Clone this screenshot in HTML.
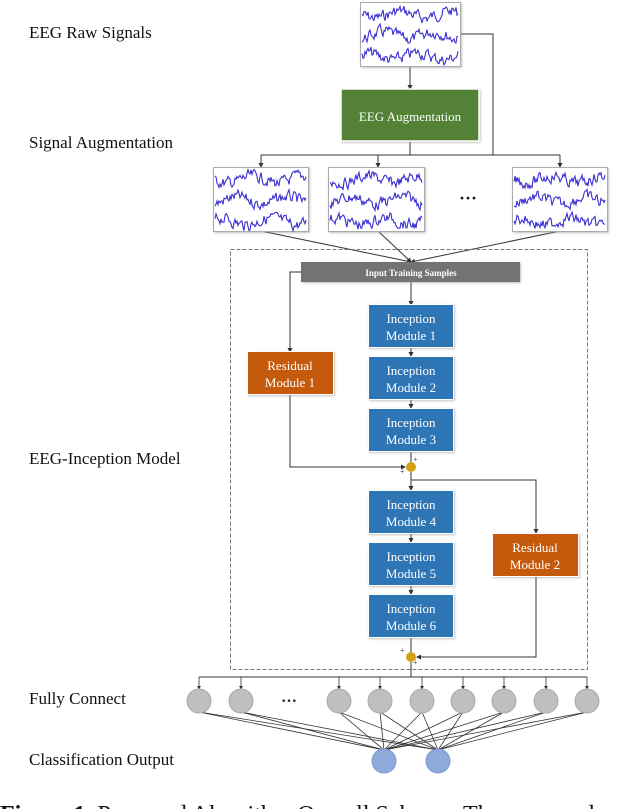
<!DOCTYPE html>
<html><head><meta charset="utf-8"><style>
html,body{margin:0;padding:0;background:#fff;width:640px;height:809px;overflow:hidden}
svg{display:block}
text{font-family:"Liberation Serif",serif}
</style></head><body>
<svg id="s" width="640" height="809" viewBox="0 0 640 809" xmlns="http://www.w3.org/2000/svg">
<defs>
<marker id="a" markerWidth="5" markerHeight="5" refX="4" refY="2.5" orient="auto"><path d="M0,0L5,2.5L0,5z" fill="#333"/></marker>
<filter id="sh" x="-10%" y="-10%" width="130%" height="130%"><feDropShadow dx="1" dy="1" stdDeviation="1" flood-color="#999" flood-opacity="0.6"/></filter>
</defs>
<g font-size="17" fill="#111">
<text x="29" y="38">EEG Raw Signals</text>
<text x="29" y="148">Signal Augmentation</text>
<text x="29" y="464">EEG-Inception Model</text>
<text x="29" y="704">Fully Connect</text>
<text x="29" y="765">Classification Output</text>
</g>
<g stroke="#333" stroke-width="1" fill="none">
<line x1="410" y1="66" x2="410" y2="89" marker-end="url(#a)"/>
<polyline points="460,34 493,34 493,155"/>
<line x1="410" y1="141" x2="410" y2="155"/>
<line x1="261" y1="155" x2="560" y2="155"/>
<line x1="261" y1="155" x2="261" y2="167" marker-end="url(#a)"/>
<line x1="378" y1="155" x2="378" y2="167" marker-end="url(#a)"/>
<line x1="560" y1="155" x2="560" y2="167" marker-end="url(#a)"/>
<line x1="261" y1="231" x2="411" y2="262" marker-end="url(#a)"/>
<line x1="378" y1="231" x2="411" y2="262" marker-end="url(#a)"/>
<line x1="560" y1="231" x2="411" y2="262" marker-end="url(#a)"/>
<rect x="230.5" y="249.5" width="357" height="420" stroke="#777" stroke-dasharray="4,2"/>
<polyline points="301,272 290,272 290,352" marker-end="url(#a)"/>
<line x1="411" y1="282" x2="411" y2="305" marker-end="url(#a)"/>
<line x1="411" y1="347" x2="411" y2="356" marker-end="url(#a)"/>
<line x1="411" y1="399" x2="411" y2="408" marker-end="url(#a)"/>
<line x1="411" y1="451" x2="411" y2="462"/>
<polyline points="290,395 290,467 405,467" marker-end="url(#a)"/>
<line x1="411" y1="472" x2="411" y2="490" marker-end="url(#a)"/>
<polyline points="411,480 536,480 536,533" marker-end="url(#a)"/>
<line x1="411" y1="533" x2="411" y2="542" marker-end="url(#a)"/>
<line x1="411" y1="586" x2="411" y2="594" marker-end="url(#a)"/>
<line x1="411" y1="637" x2="411" y2="652"/>
<polyline points="536,577 536,657 417,657" marker-end="url(#a)"/>
<line x1="411" y1="662" x2="411" y2="677"/>
<line x1="199" y1="677" x2="587" y2="677"/>
</g>
<g id="fc" stroke="#333" stroke-width="0.8"></g>
<g id="sig"></g>
<rect x="341" y="89" width="138" height="52" fill="#538135" stroke="#fff" stroke-width="1.5" filter="url(#sh)"/>
<text x="410" y="121" text-anchor="middle" font-size="13" fill="#fff">EEG Augmentation</text>
<text x="468" y="204" text-anchor="middle" font-size="18" font-weight="bold" fill="#222">···</text>
<rect x="301" y="262" width="219" height="20" fill="#737373" filter="url(#sh)"/>
<text x="411" y="276" text-anchor="middle" font-size="9" font-weight="bold" fill="#fff">Input Training Samples</text>
<g font-size="13" fill="#fff" text-anchor="middle">
<g filter="url(#sh)" fill="#2e74b5" stroke="#fff" stroke-width="1">
<rect x="368.5" y="304.5" width="85" height="43"/>
<rect x="368.5" y="356.5" width="85" height="43"/>
<rect x="368.5" y="408.5" width="85" height="43"/>
<rect x="368.5" y="490.5" width="85" height="43"/>
<rect x="368.5" y="542.5" width="85" height="43"/>
<rect x="368.5" y="594.5" width="85" height="43"/>
</g>
<g fill="#c55a11" stroke="#fff" stroke-width="1" filter="url(#sh)">
<rect x="247.5" y="351.5" width="86" height="43"/>
<rect x="492.5" y="533.5" width="86" height="43"/>
</g>
<text x="411" y="323">Inception</text><text x="411" y="340">Module 1</text>
<text x="411" y="375">Inception</text><text x="411" y="392">Module 2</text>
<text x="411" y="427">Inception</text><text x="411" y="444">Module 3</text>
<text x="411" y="509">Inception</text><text x="411" y="526">Module 4</text>
<text x="411" y="561">Inception</text><text x="411" y="578">Module 5</text>
<text x="411" y="613">Inception</text><text x="411" y="630">Module 6</text>
<text x="290" y="370">Residual</text><text x="290" y="387">Module 1</text>
<text x="535" y="552">Residual</text><text x="535" y="569">Module 2</text>
</g>
<circle cx="411" cy="467" r="5" fill="#d4a017"/>
<circle cx="411" cy="657" r="5" fill="#d4a017"/>
<g font-size="8" fill="#333"><text x="413" y="462">+</text><text x="400" y="474">+</text><text x="400" y="653">+</text><text x="413" y="665">+</text></g>
<text x="289" y="706" text-anchor="middle" font-size="16" font-weight="bold" fill="#222">···</text>
<text x="0" y="822" font-size="24" fill="#111"><tspan font-weight="bold">Figure 1.</tspan> Proposed Algorithm Overall Scheme. The proposed</text>
</svg>
<script>
var NS="http://www.w3.org/2000/svg",s=document.getElementById('s');
var fc=document.getElementById('fc'),sig=document.getElementById('sig');
function el(n,a,p){var e=document.createElementNS(NS,n);for(var k in a)e.setAttribute(k,a[k]);p.appendChild(e);return e;}
var xs=[199,241,339,380,422,463,504,546,587],outs=[384,438];
xs.forEach(function(x){el('line',{x1:x,y1:677,x2:x,y2:689,'marker-end':'url(#a)',stroke:'#333'},fc);
 outs.forEach(function(o){el('line',{x1:x,y1:712,x2:o,y2:750},fc);});});
xs.forEach(function(x){el('circle',{cx:x,cy:701,r:12,fill:'#bfbfbf',stroke:'#aaa'},s);});
outs.forEach(function(o){el('circle',{cx:o,cy:761,r:12,fill:'#8eaadb',stroke:'#7a9ccf'},s);});
var seed=7;function r(){seed=(seed*9301+49297)%233280;return seed/233280;}
function box(x,y,w,h){el('rect',{x:x+.5,y:y+.5,width:w,height:h,fill:'#fff',stroke:'#aaa',filter:'url(#sh)'},sig);
 for(var k=0;k<3;k++){var cy=y+h*(k+0.5)/3.05+2,p=[],v=0;for(var i=0;i<=w-4;i+=1){v=v*0.5+(r()-0.5)*10;var sl=Math.sin(i/8+k*2)*3.5;p.push((x+2+i)+','+(cy+v+sl).toFixed(1));}
 el('polyline',{points:p.join(' '),fill:'none',stroke:'#3a2fd0','stroke-width':1.1},sig);}}
box(360,2,100,64);box(213,167,95,64);box(328,167,96,64);box(512,167,95,64);
</script>
</body></html>
